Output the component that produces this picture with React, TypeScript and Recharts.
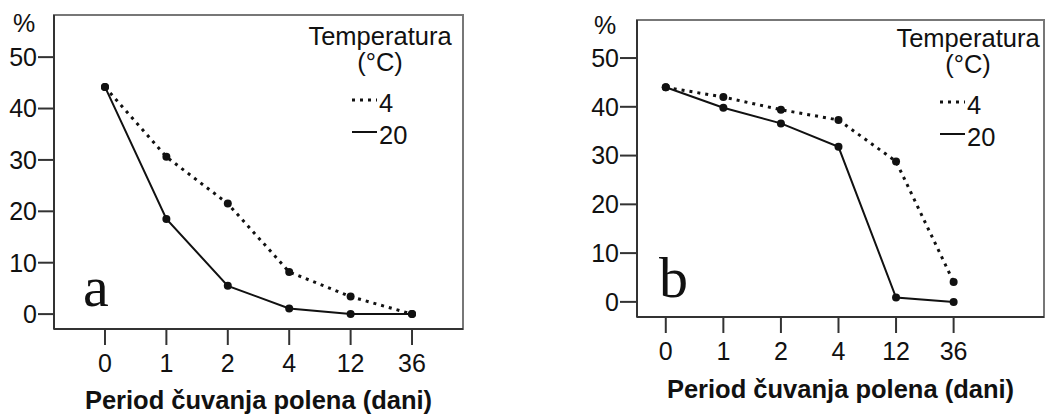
import { LineChart, Line, XAxis, YAxis, ReferenceArea, Legend, Customized } from 'recharts';

const periods = ['0', '1', '2', '4', '12', '36'];
const yTicks = [0, 10, 20, 30, 40, 50];

// panel a
const aTemp4 = [44.2, 30.6, 21.5, 8.2, 3.4, 0];
const aTemp20 = [44.2, 18.5, 5.5, 1.1, 0, 0];
// panel b
const bTemp4 = [44.0, 42.0, 39.4, 37.3, 28.8, 4.1];
const bTemp20 = [44.0, 39.8, 36.6, 31.8, 0.9, 0];

const series = [
  { key: 't4', name: '4', dash: '3 5', width: 3 },
  { key: 't20', name: '20', dash: undefined, width: 2 },
];

const sans = "'Liberation Sans', Arial, sans-serif";
const ink = '#111';

const buildRows = (t4: number[], t20: number[]) =>
  periods.map((p, i) => ({ idx: i, period: p, t4: t4[i], t20: t20[i] }));

// legend keeps the series order (4 above 20), like the original figure
const renderLegend = (props: any) => {
  const items = [...(props.payload || [])].sort(
    (a: any, b: any) =>
      series.findIndex((s) => s.key === a.dataKey) - series.findIndex((s) => s.key === b.dataKey)
  );
  return (
    <svg width={160} height={130} style={{ overflow: 'visible' }}>
      <text x={80} y={25} textAnchor="middle" fontSize={25.5} fontFamily={sans} fill={ink}>
        Temperatura
      </text>
      <text x={80} y={51} textAnchor="middle" fontSize={25.5} fontFamily={sans} fill={ink}>
        (°C)
      </text>
      {items.map((entry: any, i: number) => {
        const s = series.find((d) => d.key === entry.dataKey) || series[i];
        const ly = 80 + i * 32;
        return (
          <g key={s.key}>
            <line x1={52} x2={77} y1={ly} y2={ly} stroke={ink} strokeWidth={s.width} strokeDasharray={s.dash} />
            <text x={79} y={ly + 12} fontSize={25.5} fontFamily={sans} fill={ink}>
              {s.name}
            </text>
          </g>
        );
      })}
    </svg>
  );
};

type PanelProps = {
  left: number;
  width: number;
  t4: number[];
  t20: number[];
  margin: { top: number; right: number; left: number; bottom: number };
  yWidth: number;
  xHeight: number;
  xDomain: [number, number];
  yDomain: [number, number];
  yTickSize: number;
  titleOffset: number;
  letter: string;
  letterPos: [number, number];
  percentPos: [number, number];
  legendPos: [number, number];
};

const Panel = (p: PanelProps) => {
  const data = buildRows(p.t4, p.t20);
  return (
    <div style={{ position: 'absolute', left: p.left, top: 0, width: p.width, height: 418 }}>
      <LineChart width={p.width} height={418} data={data} margin={p.margin}>
        <ReferenceArea
          x1={p.xDomain[0]}
          x2={p.xDomain[1]}
          y1={p.yDomain[0]}
          y2={p.yDomain[1]}
          fill="none"
          stroke="#777"
          strokeWidth={2}
          ifOverflow="visible"
        />
        <XAxis
          dataKey="idx"
          type="number"
          domain={p.xDomain}
          ticks={[0, 1, 2, 3, 4, 5]}
          tickFormatter={(v: number) => periods[v]}
          allowDataOverflow
          height={p.xHeight}
          tickSize={16}
          tickMargin={9}
          stroke="#333"
          strokeWidth={2}
          tick={{ fill: ink, fontSize: 25, fontFamily: sans }}
          label={{
            value: 'Period čuvanja polena (dani)',
            position: 'insideBottom',
            offset: p.titleOffset,
            fill: ink,
            fontSize: 25.5,
            fontWeight: 'bold',
            fontFamily: sans,
          }}
        />
        <YAxis
          type="number"
          domain={p.yDomain}
          ticks={yTicks}
          allowDataOverflow
          width={p.yWidth}
          tickSize={p.yTickSize}
          tickMargin={1}
          stroke="#333"
          strokeWidth={2}
          tick={{ fill: ink, fontSize: 25, fontFamily: sans }}
        />
        <Legend
          content={renderLegend}
          layout="vertical"
          align="center"
          verticalAlign="middle"
          wrapperStyle={{ left: p.legendPos[0], top: p.legendPos[1], width: 160, height: 130 }}
        />
        {series.map((s) => (
          <Line
            key={s.key}
            dataKey={s.key}
            name={s.name}
            type="linear"
            stroke={ink}
            strokeWidth={s.width}
            strokeDasharray={s.dash}
            dot={{ r: 4, fill: ink, strokeWidth: 0, strokeDasharray: 'none' }}
            isAnimationActive={false}
          />
        ))}
        <Customized
          component={() => (
            <g>
              <text x={p.percentPos[0]} y={p.percentPos[1]} fontSize={25} fontFamily={sans} fill={ink}>
                %
              </text>
              <text
                x={p.letterPos[0]}
                y={p.letterPos[1]}
                fontSize={58}
                fontFamily="'Liberation Serif', 'Times New Roman', serif"
                fill={ink}
              >
                {p.letter}
              </text>
            </g>
          )}
        />
      </LineChart>
    </div>
  );
}

export default function App() {
  return (
    <div style={{ position: 'absolute', left: 0, top: 0, width: 1046, height: 418, background: '#fff' }}>
      <Panel
        left={0}
        width={480}
        t4={aTemp4}
        t20={aTemp20}
        margin={{ top: 15, right: 17, left: 0, bottom: 0 }}
        yWidth={54}
        xHeight={89}
        xDomain={[-0.83, 5.83]}
        yDomain={[-2.9, 58.2]}
        yTickSize={16}
        titleOffset={9}
        letter="a"
        letterPos={[83, 306]}
        percentPos={[13, 32]}
        legendPos={[300, 20]}
      />
      <Panel
        left={560}
        width={486}
        t4={bTemp4}
        t20={bTemp20}
        margin={{ top: 20, right: 2, left: 0, bottom: 0 }}
        yWidth={77}
        xHeight={101}
        xDomain={[-0.5, 6.57]}
        yDomain={[-3.1, 57.8]}
        yTickSize={17}
        titleOffset={20}
        letter="b"
        letterPos={[99, 297]}
        percentPos={[34, 34]}
        legendPos={[328, 22]}
      />
    </div>
  );
}
